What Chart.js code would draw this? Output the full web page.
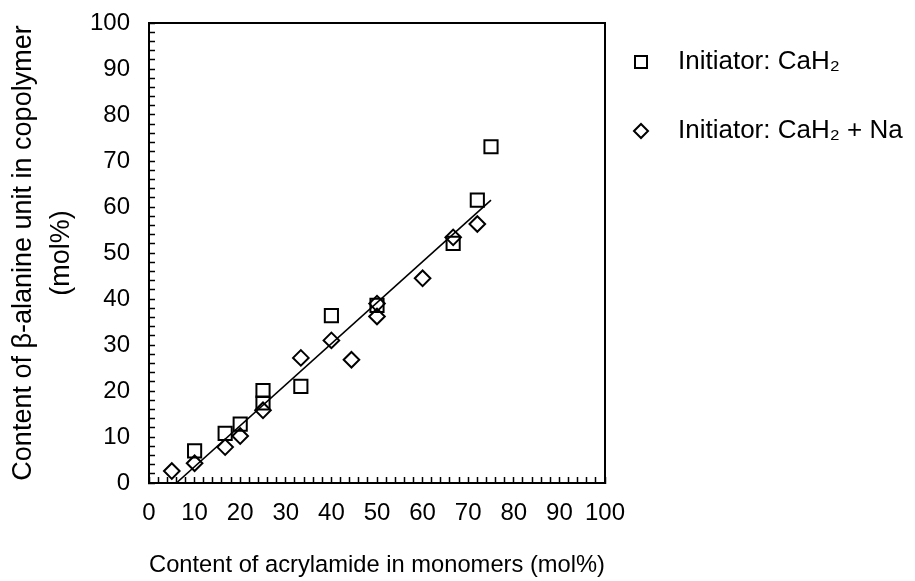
<!DOCTYPE html>
<html>
<head>
<meta charset="utf-8">
<script src="https://cdn.jsdelivr.net/npm/chart.js@4.4.0/dist/chart.umd.min.js"></script>
<style>
  body { margin: 0; background: #fff; }
</style>
</head>
<body>
<canvas id="copolymer-chart" width="915" height="581"></canvas>
<script>
// acrylamide in feed (mol%) vs beta-alanine unit found in copolymer (mol%)
const cahX = [10, 16.7, 20, 25, 25, 33.3, 40, 50, 66.7, 72, 75];
const cahY = [7.0, 10.8, 12.8, 17.4, 20.1, 21.0, 36.4, 38.6, 52.1, 61.5, 73.1];

const cahNaX = [5, 10, 16.7, 20, 25, 33.3, 40, 44.4, 50, 50, 60, 66.7, 72];
const cahNaY = [2.6, 4.3, 7.8, 10.2, 15.8, 27.2, 31.0, 26.8, 39.0, 36.2, 44.5, 53.4, 56.3];

// end points of the fitted line
const fitX = [6, 75];
const fitY = [0, 61.5];

const tickLabels = [0, 10, 20, 30, 40, 50, 60, 70, 80, 90, 100];

const FONT = 'Arial, "Liberation Sans", sans-serif';
Chart.defaults.font.family = FONT;
Chart.defaults.font.size = 24;
Chart.defaults.color = '#000';

function toPoints(xs, ys) {
  return xs.map((x, i) => ({ x: x, y: ys[i] }));
}

// legend to the right of the plot, one row per labelled dataset
const sideLegend = {
  id: 'sideLegend',
  afterDraw(chart) {
    const ctx = chart.ctx;
    const area = chart.chartArea;
    ctx.save();
    ctx.font = '26px ' + FONT;
    ctx.textBaseline = 'middle';
    ctx.fillStyle = '#000';
    ctx.strokeStyle = '#000';
    ctx.lineWidth = 2;
    let y = area.top + 39;
    chart.data.datasets.forEach(function(ds) {
      if (!ds.label) return;
      const mx = area.right + 36;
      ctx.beginPath();
      if (ds.pointStyle === 'rect') {
        ctx.rect(mx - 6, y - 6, 12, 12);
      } else {
        ctx.moveTo(mx - 7, y);
        ctx.lineTo(mx, y - 7);
        ctx.lineTo(mx + 7, y);
        ctx.lineTo(mx, y + 7);
        ctx.closePath();
      }
      ctx.stroke();
      ctx.fillText(ds.label, area.right + 73, y);
      y += 69;
    });
    ctx.restore();
  }
};

function mainAxis(title, titleFont, titlePadding, padding) {
  return {
    type: 'linear',
    min: 0,
    max: 100,
    grid: {
      drawOnChartArea: false,
      tickLength: -6,
      tickWidth: 1.5,
      tickColor: '#000'
    },
    border: { color: '#000', width: 2 },
    ticks: {
      stepSize: 2,
      maxTicksLimit: 100,
      autoSkip: false,
      maxRotation: 0,
      padding: padding,
      color: '#000',
      callback: function(value) {
        return tickLabels.includes(value) ? value : '';
      }
    },
    title: {
      display: true,
      text: title,
      color: '#000',
      font: titleFont,
      padding: titlePadding
    }
  };
}

function frameAxis(position) {
  return {
    type: 'linear',
    position: position,
    min: 0,
    max: 100,
    grid: { display: false, drawTicks: false },
    ticks: { display: false },
    border: { color: '#000', width: 2 }
  };
}

const xAxis = mainAxis('Content of acrylamide in monomers (mol%)',
  { size: 24.5 }, { top: 0, bottom: 1 }, 22);
xAxis.position = 'bottom';
xAxis.afterFit = function(scale) { scale.height = 98; };

const yAxis = mainAxis(['Content of \u03b2-alanine unit in copolymer', '(mol%)'],
  { size: 27, lineHeight: 1.39 }, { top: 5, bottom: 0 }, 25);
yAxis.position = 'left';
yAxis.afterFit = function(scale) {
  scale.width = 149;
  // tick labels may hang over the plot edges, the layout padding covers them
  scale.paddingTop = 0;
  scale.paddingBottom = 0;
};

new Chart(document.getElementById('copolymer-chart'), {
  type: 'scatter',
  data: {
    datasets: [
      {
        label: 'Initiator: CaH\u2082',
        data: toPoints(cahX, cahY),
        pointStyle: 'rect',
        pointRadius: 9.3,
        pointHoverRadius: 9.3,
        borderColor: '#000',
        backgroundColor: 'rgba(0,0,0,0)',
        borderWidth: 2
      },
      {
        label: 'Initiator: CaH\u2082 + Na',
        data: toPoints(cahNaX, cahNaY),
        pointStyle: 'rectRot',
        pointRadius: 7.8,
        pointHoverRadius: 7.8,
        borderColor: '#000',
        backgroundColor: 'rgba(0,0,0,0)',
        borderWidth: 2
      },
      {
        data: toPoints(fitX, fitY),
        showLine: true,
        pointRadius: 0,
        borderColor: '#000',
        borderWidth: 1.6,
        fill: false
      }
    ]
  },
  options: {
    responsive: false,
    animation: false,
    devicePixelRatio: 1,
    layout: { padding: { top: 23, right: 310, bottom: 0, left: 0 } },
    plugins: {
      legend: { display: false },
      tooltip: { enabled: false }
    },
    scales: {
      x: xAxis,
      y: yAxis,
      xTop: frameAxis('top'),
      yRight: frameAxis('right')
    }
  },
  plugins: [sideLegend]
});
</script>
</body>
</html>
